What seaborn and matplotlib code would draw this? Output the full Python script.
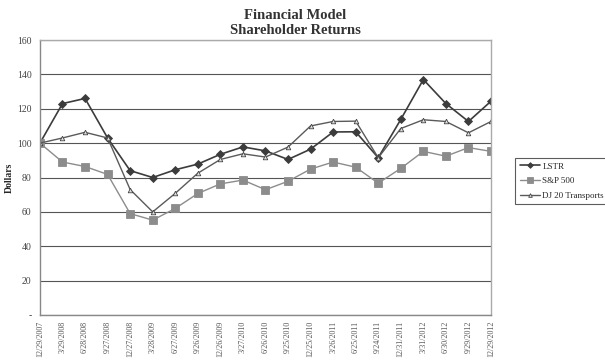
import pandas as pd
import seaborn as sns
import matplotlib.pyplot as plt

dates = ["12/29/2007", "3/29/2008", "6/28/2008", "9/27/2008", "12/27/2008",
         "3/28/2009", "6/27/2009", "9/26/2009", "12/26/2009", "3/27/2010",
         "6/26/2010", "9/25/2010", "12/25/2010", "3/26/2011", "6/25/2011",
         "9/24/2011", "12/31/2011", "3/31/2012", "6/30/2012", "9/29/2012",
         "12/29/2012"]
lstr = [100, 123, 126, 103, 84, 80, 84.5, 87.8, 93.5, 97.8, 95.5, 90.5,
        96.5, 106.5, 106.6, 91.5, 113.8, 137, 123, 112.6, 124.4]
sp500 = [100, 89, 86.4, 81.8, 59, 55.2, 62, 70.7, 76.3, 78.5, 72.9, 77.8,
         84.9, 89, 86, 76.7, 85.3, 95.2, 92.4, 97.4, 95.2]
dj20 = [100, 103, 106.3, 103, 73, 60, 70.8, 82.5, 90.5, 93.8, 91.9, 97.7,
        110, 112.6, 112.8, 91.5, 108.5, 113.6, 112.6, 106, 112.6]

df = pd.DataFrame({"date": dates * 3,
                   "x": list(range(len(dates))) * 3,
                   "value": lstr + sp500 + dj20,
                   "series": ["LSTR"] * 21 + ["S&P 500"] * 21 + ["DJ 20 Transports"] * 21})

sns.set_style("white")
plt.rcParams["font.family"] = ["Liberation Serif", "DejaVu Serif"]

fig = plt.figure(figsize=(6.05, 3.63), dpi=100)
ax = fig.add_axes([0.066, 0.1322, 0.7456, 0.7576])

colors = {"LSTR": "#3c3c3c", "S&P 500": "#8c8c8c", "DJ 20 Transports": "#5a5a5a"}
marks = {"LSTR": "D", "S&P 500": "s", "DJ 20 Transports": "^"}
sizes = {"LSTR": 3.6, "S&P 500": 5.2, "DJ 20 Transports": 3.3}
lws = {"LSTR": 1.2, "S&P 500": 1.0, "DJ 20 Transports": 1.0}

for name in ["LSTR", "S&P 500", "DJ 20 Transports"]:
    sub = df[df["series"] == name]
    sns.lineplot(data=sub, x="x", y="value", ax=ax, color=colors[name],
                 marker=marks[name], markersize=sizes[name], linewidth=lws[name],
                 markeredgecolor=colors[name] if name != "DJ 20 Transports" else "#444444",
                 markerfacecolor=colors[name] if name != "DJ 20 Transports" else "#dddddd",
                 markeredgewidth=0.6, label=name)

ax.set_xlim(0, 20)
ax.set_ylim(0, 160)
ax.set_yticks(range(0, 161, 20))
ax.set_yticklabels(["-"] + [str(v) for v in range(20, 161, 20)], fontsize=7, color="#444444")
ax.set_xticks(range(21))
ax.set_xticklabels(dates, rotation=90, fontsize=5.8, color="#555555")
ax.tick_params(axis="x", direction="out", length=3, color="#666666", pad=1)
ax.tick_params(axis="y", length=0, pad=6)
ax.grid(axis="y", color="#555555", linewidth=0.8)
for s in ax.spines.values():
    s.set_color("#aaaaaa")
    s.set_linewidth(1)
ax.spines["left"].set_color("#888888")
ax.spines["bottom"].set_color("#888888")
ax.set_xlabel("")
ax.set_ylabel("Dollars", fontsize=7, fontweight="bold")
ax.yaxis.set_label_coords(-0.058, 0.5)

fig.suptitle("Financial Model\nShareholder Returns", fontsize=10.5, fontweight="bold",
             color="#333333", x=0.488, y=0.975, linespacing=1.15)

leg = ax.legend(loc="upper left", bbox_to_anchor=(1.044, 0.588), fontsize=6.5,
                frameon=True, fancybox=False, edgecolor="#333333",
                handlelength=2.2, handletextpad=0.3, borderpad=0.5,
                labelspacing=0.7, markerscale=0.8)
leg.get_frame().set_linewidth(0.8)

fig.savefig("out.png", dpi=100)
